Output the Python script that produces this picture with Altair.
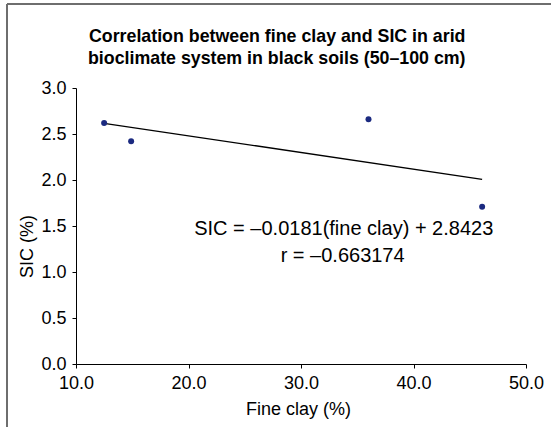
import altair as alt
import pandas as pd

# data
fine_clay = [12.5, 14.9, 36.0, 46.1]
sic = [2.62, 2.42, 2.66, 1.71]
slope = -0.0181
intercept = 2.8423
r_value = -0.663174

x_ticks = [10, 20, 30, 40, 50]
y_ticks = [0.0, 0.5, 1.0, 1.5, 2.0, 2.5, 3.0]

title_lines = ["Correlation between fine clay and SIC in arid",
               "bioclimate system in black soils (50\u2013100 cm)"]

FONT = "Liberation Sans"

pts = pd.DataFrame({"fine_clay": fine_clay, "sic": sic})
xmin, xmax = min(fine_clay), max(fine_clay)
fit = pd.DataFrame({"fine_clay": [xmin, xmax],
                    "sic": [slope * xmin + intercept, slope * xmax + intercept]})

xscale = alt.Scale(domain=[10, 50], nice=False, zero=False)
yscale = alt.Scale(domain=[0, 3], nice=False)

xaxis = alt.Axis(title="Fine clay (%)", values=x_ticks, format=".1f", grid=False,
                 domainColor="black", tickColor="black", tickSize=4, labelFlush=False,
                 labelFont=FONT, labelFontSize=18, labelColor="black", labelPadding=6,
                 titleFont=FONT, titleFontSize=18, titleFontWeight="normal", titleColor="black",
                 titleX=222, titleY=50, titleBaseline="alphabetic")
yaxis = alt.Axis(title="SIC (%)", values=y_ticks, format=".1f", grid=False,
                 domainColor="black", tickColor="black", tickSize=4, labelFlush=False,
                 labelFont=FONT, labelFontSize=18, labelColor="black", labelPadding=6,
                 titleFont=FONT, titleFontSize=18, titleFontWeight="normal", titleColor="black",
                 titleX=-49, titleY=158, titleAngle=270, titleAlign="center",
                 titleBaseline="middle")

points = alt.Chart(pts).mark_circle(size=36, color="#1b2a80", opacity=1).encode(
    x=alt.X("fine_clay:Q", scale=xscale, axis=xaxis),
    y=alt.Y("sic:Q", scale=yscale, axis=yaxis),
)

line = alt.Chart(fit).mark_line(color="black", strokeWidth=1.3).encode(
    x=alt.X("fine_clay:Q", scale=xscale),
    y=alt.Y("sic:Q", scale=yscale),
)

eq_text = f"SIC = \u2013{abs(slope):.4f}(fine clay) + {intercept:.4f}"
r_text = f"r = \u2013{abs(r_value):.6f}"

ann1 = alt.Chart(pd.DataFrame({"t": [eq_text]})).mark_text(
    font=FONT, fontSize=20, color="black", align="center", baseline="alphabetic"
).encode(x=alt.datum(33.8), y=alt.datum(1.40), text="t:N")
ann2 = alt.Chart(pd.DataFrame({"t": [r_text]})).mark_text(
    font=FONT, fontSize=20, color="black", align="center", baseline="alphabetic"
).encode(x=alt.datum(33.7), y=alt.datum(1.11), text="t:N")

# chart title as two left-aligned text lines
t1 = alt.Chart(pd.DataFrame({"t": [title_lines[0]]})).mark_text(
    font=FONT, fontSize=17.8, fontWeight="bold", color="black", align="left",
    baseline="alphabetic").encode(x=alt.value(13), y=alt.value(-46), text="t:N")
t2 = alt.Chart(pd.DataFrame({"t": [title_lines[1]]})).mark_text(
    font=FONT, fontSize=17.8, fontWeight="bold", color="black", align="left",
    baseline="alphabetic").encode(x=alt.value(12), y=alt.value(-24), text="t:N")

# outer frame (decoration)
frame_v = alt.Chart(pd.DataFrame({"a": [0]})).mark_rule(color="#6e6e6e", strokeWidth=2).encode(
    x=alt.value(-69), y=alt.value(-84), y2=alt.value(360))
frame_h = alt.Chart(pd.DataFrame({"a": [0]})).mark_rule(color="#6e6e6e", strokeWidth=2).encode(
    x=alt.value(-69), x2=alt.value(500), y=alt.value(-84))

chart = alt.layer(frame_v, frame_h, line, points, ann1, ann2, t1, t2).properties(
    width=450, height=276,
    autosize=alt.AutoSizeParams(type="none"),
    padding={"left": 76, "top": 88, "right": 25, "bottom": 63},
    background="white",
).configure_view(stroke=None)

chart.save("out.html", embed_options={"renderer": "svg", "actions": False})
